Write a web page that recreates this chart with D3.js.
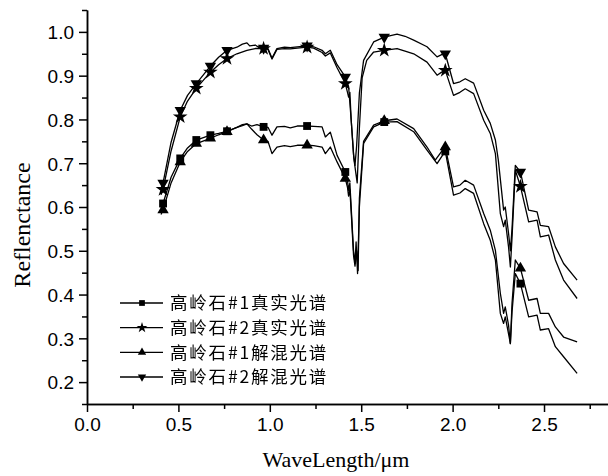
<!DOCTYPE html>
<html lang="zh-CN">
<head>
<meta charset="utf-8">
<script src="https://cdn.jsdelivr.net/npm/d3@7"></script>
<style>
  body { margin: 0; background: #fff; }
  svg { display: block; }
  .axis path, .axis line { stroke: #000; stroke-width: 1.5; }
  .tick text { font-family: "Liberation Sans", Arial, sans-serif; font-size: 19px; fill: #000; }
</style>
</head>
<body>
<svg width="608" height="476"></svg>
<script>
// x axis ticks (micrometres) and y axis ticks (reflectance)
const xTicks = [0.0, 0.5, 1.0, 1.5, 2.0, 2.5];
const yTicks = [0.2, 0.3, 0.4, 0.5, 0.6, 0.7, 0.8, 0.9, 1.0];

// wavelengths where the series carry a marker
const markerWaves = [0.416, 0.51, 0.598, 0.675, 0.766, 0.966, 1.204, 1.413, 1.626, 1.96, 2.371];

// kaolinite #1 real spectrum  [wavelength, reflectance]
const kaolin1Real = [
  [0.405,0.598],[0.416,0.608],[0.46,0.668],[0.51,0.711],[0.55,0.735],[0.598,0.753],[0.675,0.764],
  [0.72,0.768],[0.766,0.773],[0.82,0.782],[0.85,0.788],[0.875,0.790],[0.9,0.785],[0.93,0.788],
  [0.966,0.783],[0.99,0.782],[1.012,0.764],[1.039,0.783],[1.08,0.784],[1.112,0.781],[1.15,0.785],
  [1.204,0.785],[1.24,0.784],[1.286,0.783],[1.304,0.760],[1.331,0.771],[1.368,0.718],[1.413,0.680],
  [1.425,0.660],[1.431,0.638],[1.438,0.655],[1.445,0.600],[1.458,0.500],[1.466,0.471],[1.472,0.520],
  [1.48,0.448],[1.49,0.600],[1.513,0.745],[1.568,0.783],[1.626,0.794],[1.696,0.795],[1.787,0.772],
  [1.86,0.730],[1.915,0.699],[1.94,0.715],[1.96,0.727],[2.005,0.627],[2.04,0.632],[2.069,0.642],
  [2.115,0.631],[2.17,0.562],[2.206,0.524],[2.234,0.479],[2.261,0.357],[2.279,0.334],[2.288,0.349],
  [2.306,0.310],[2.316,0.288],[2.325,0.360],[2.343,0.448],[2.371,0.425],[2.416,0.349],[2.462,0.353],
  [2.48,0.319],[2.525,0.322],[2.562,0.281],[2.607,0.258],[2.681,0.220]
];

// kaolinite #2 real spectrum
const kaolin2Real = [
  [0.405,0.628],[0.416,0.640],[0.46,0.728],[0.51,0.806],[0.55,0.842],[0.598,0.871],[0.675,0.908],
  [0.72,0.925],[0.766,0.939],[0.82,0.950],[0.875,0.958],[0.92,0.962],[0.966,0.962],[0.99,0.960],
  [1.012,0.938],[1.039,0.960],[1.08,0.962],[1.112,0.961],[1.15,0.963],[1.204,0.965],[1.24,0.963],
  [1.286,0.953],[1.304,0.945],[1.331,0.952],[1.368,0.918],[1.413,0.882],[1.425,0.862],[1.431,0.851],
  [1.438,0.862],[1.445,0.800],[1.46,0.710],[1.478,0.655],[1.49,0.780],[1.505,0.895],[1.53,0.935],
  [1.568,0.954],[1.626,0.958],[1.696,0.962],[1.74,0.956],[1.787,0.950],[1.86,0.931],[1.915,0.901],
  [1.94,0.908],[1.96,0.912],[2.005,0.855],[2.04,0.862],[2.069,0.870],[2.115,0.859],[2.17,0.798],
  [2.206,0.768],[2.234,0.722],[2.261,0.585],[2.279,0.555],[2.288,0.570],[2.306,0.509],[2.316,0.463],
  [2.325,0.530],[2.343,0.684],[2.371,0.647],[2.416,0.566],[2.462,0.570],[2.48,0.532],[2.525,0.536],
  [2.562,0.479],[2.607,0.433],[2.681,0.391]
];

// kaolinite #1 unmixed spectrum
const kaolin1Unmixed = [
  [0.405,0.583],[0.416,0.593],[0.46,0.655],[0.51,0.703],[0.55,0.727],[0.598,0.745],[0.675,0.757],
  [0.72,0.765],[0.766,0.772],[0.82,0.782],[0.85,0.786],[0.875,0.790],[0.9,0.778],[0.93,0.765],
  [0.966,0.753],[0.99,0.750],[1.012,0.722],[1.039,0.737],[1.08,0.740],[1.112,0.738],[1.15,0.741],
  [1.204,0.741],[1.24,0.740],[1.286,0.737],[1.304,0.722],[1.331,0.737],[1.368,0.703],[1.413,0.665],
  [1.425,0.645],[1.431,0.625],[1.438,0.640],[1.445,0.590],[1.458,0.490],[1.466,0.465],[1.475,0.500],
  [1.483,0.455],[1.49,0.620],[1.513,0.750],[1.568,0.787],[1.626,0.797],[1.696,0.801],[1.787,0.779],
  [1.86,0.737],[1.905,0.707],[1.94,0.727],[1.96,0.737],[2.005,0.646],[2.04,0.650],[2.069,0.661],
  [2.115,0.650],[2.17,0.585],[2.206,0.547],[2.234,0.501],[2.261,0.403],[2.279,0.357],[2.288,0.372],
  [2.306,0.330],[2.316,0.288],[2.325,0.380],[2.343,0.479],[2.371,0.460],[2.416,0.387],[2.462,0.391],
  [2.48,0.357],[2.525,0.357],[2.562,0.326],[2.607,0.303],[2.681,0.292]
];

// kaolinite #2 unmixed spectrum
const kaolin2Unmixed = [
  [0.405,0.643],[0.416,0.655],[0.46,0.748],[0.51,0.821],[0.55,0.855],[0.598,0.882],[0.675,0.922],
  [0.72,0.942],[0.766,0.958],[0.82,0.965],[0.85,0.972],[0.875,0.975],[0.89,0.968],[0.92,0.970],
  [0.94,0.965],[0.966,0.963],[0.99,0.962],[1.012,0.940],[1.039,0.962],[1.08,0.965],[1.112,0.964],
  [1.15,0.966],[1.204,0.968],[1.24,0.966],[1.286,0.958],[1.304,0.950],[1.331,0.958],[1.368,0.925],
  [1.413,0.897],[1.431,0.875],[1.445,0.800],[1.458,0.720],[1.466,0.695],[1.475,0.740],[1.49,0.860],
  [1.513,0.935],[1.568,0.977],[1.626,0.988],[1.696,0.995],[1.74,0.990],[1.787,0.981],[1.86,0.966],
  [1.915,0.943],[1.94,0.948],[1.96,0.950],[2.005,0.882],[2.04,0.886],[2.069,0.893],[2.115,0.883],
  [2.17,0.821],[2.206,0.791],[2.234,0.753],[2.25,0.707],[2.279,0.593],[2.288,0.600],[2.306,0.540],
  [2.316,0.500],[2.325,0.550],[2.343,0.695],[2.371,0.680],[2.416,0.593],[2.462,0.589],[2.48,0.558],
  [2.525,0.555],[2.562,0.509],[2.607,0.471],[2.681,0.433]
];

const seriesNames = ["高岭石#1真实光谱", "高岭石#2真实光谱", "高岭石#1解混光谱", "高岭石#2解混光谱"];
const seriesData = [kaolin1Real, kaolin2Real, kaolin1Unmixed, kaolin2Unmixed];
const seriesSymbols = ["square", "star", "triangleUp", "triangleDown"];

const svg = d3.select("svg");
const margin = { left: 87, top: 10, right: 0, bottom: 72 };
const width = 608, height = 476;

const xScale = d3.scaleLinear().domain([0, 2.85]).range([margin.left, width - margin.right]);
const yScale = d3.scaleLinear().domain([0.15, 1.05]).range([height - margin.bottom, margin.top]);

function symbolPath(kind, size) {
  if (kind === "square") return d3.symbol(d3.symbolSquare, size * 1.1)();
  if (kind === "star") return d3.symbol(d3.symbolStar, size * 1.2)();
  return d3.symbol(d3.symbolTriangle, size)();
}
function symbolTransform(kind, x, y) {
  return kind === "triangleDown" ? `translate(${x},${y}) rotate(180)` : `translate(${x},${y})`;
}

// grayscale filter for the legend text
svg.append("defs").append("filter").attr("id", "gray")
  .append("feColorMatrix").attr("type", "saturate").attr("values", 0);

// minor ticks first (shorter), then major axes
svg.append("g").attr("class", "axis")
  .attr("transform", `translate(0,${yScale(0.15)})`)
  .call(d3.axisBottom(xScale).tickValues(d3.range(0.25, 2.85, 0.5)).tickSize(5).tickFormat("").tickSizeOuter(0));
svg.append("g").attr("class", "axis")
  .attr("transform", `translate(${xScale(0)},0)`)
  .call(d3.axisLeft(yScale).tickValues([0.15, 0.25, 0.35, 0.45, 0.55, 0.65, 0.75, 0.85, 0.95, 1.05]).tickSize(5).tickFormat("").tickSizeOuter(0));

svg.append("g").attr("class", "axis")
  .attr("transform", `translate(0,${yScale(0.15)})`)
  .call(d3.axisBottom(xScale).tickValues(xTicks).tickSize(8).tickPadding(6).tickFormat(d3.format(".1f")).tickSizeOuter(0));
svg.append("g").attr("class", "axis")
  .attr("transform", `translate(${xScale(0)},0)`)
  .call(d3.axisLeft(yScale).tickValues(yTicks).tickSize(8).tickPadding(5).tickFormat(d3.format(".1f")).tickSizeOuter(0))
  .selectAll(".tick text").attr("dy", "0.36em");

// axis titles
svg.append("text")
  .attr("x", 336).attr("y", 467)
  .attr("text-anchor", "middle")
  .style("font-family", "'Liberation Serif', 'Times New Roman', serif")
  .style("font-size", "22px")
  .text("WaveLength/μm");

svg.append("text")
  .attr("transform", "translate(30,225) rotate(-90)")
  .attr("text-anchor", "middle")
  .style("font-family", "'Liberation Serif', 'Times New Roman', serif")
  .style("font-size", "24px")
  .text("Reflenctance");

const line = d3.line().x((d) => xScale(d[0])).y((d) => yScale(d[1]));

seriesData.forEach((data) => {
  svg.append("path")
    .attr("d", line(data))
    .attr("fill", "none")
    .attr("stroke", "#000")
    .attr("stroke-width", 1.3)
    .attr("stroke-linejoin", "round");
});

seriesData.forEach((data, i) => {
  const kind = seriesSymbols[i];
  svg.append("g")
    .selectAll("path")
    .data(data.filter((d) => markerWaves.includes(d[0])))
    .enter()
    .append("path")
    .attr("d", symbolPath(kind, 56))
    .attr("transform", (d) => symbolTransform(kind, xScale(d[0]), yScale(d[1])))
    .attr("fill", "#000");
});

// legend
const legendY = [303, 327.7, 352.3, 377];
const legend = svg.append("g").attr("filter", "url(#gray)");
seriesNames.forEach((name, i) => {
  const y = legendY[i];
  legend.append("line")
    .attr("x1", 120).attr("x2", 163).attr("y1", y).attr("y2", y)
    .attr("stroke", "#000").attr("stroke-width", 1.3);
  legend.append("path")
    .attr("d", symbolPath(seriesSymbols[i], 30))
    .attr("transform", symbolTransform(seriesSymbols[i], 142, y))
    .attr("fill", "#000");
  legend.append("text")
    .attr("x", 170).attr("y", y).attr("dy", "0.36em")
    .attr("fill", "#000")
    .style("font-family", "'Noto Sans CJK SC', sans-serif")
    .style("font-size", "17.5px")
    .style("letter-spacing", "1.8px")
    .text(name);
});
</script>
</body>
</html>
